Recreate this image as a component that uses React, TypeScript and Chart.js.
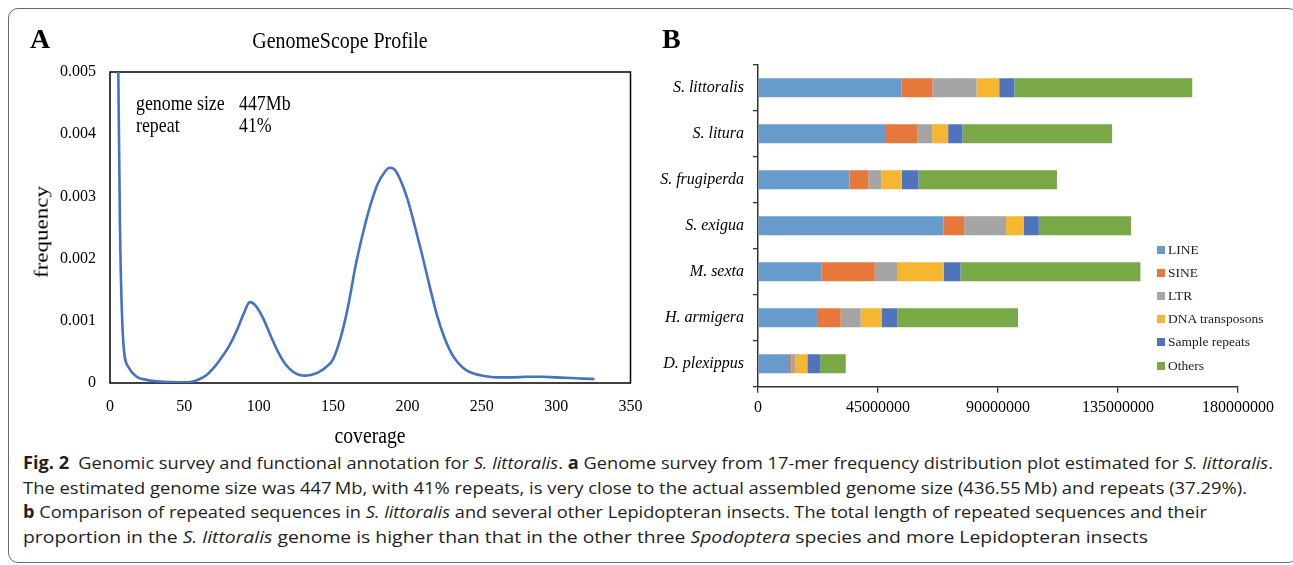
import React, { useEffect, useRef } from "react";
import { Chart, registerables } from "chart.js";
Chart.register(...registerables);

// ---------- Panel A: GenomeScope k-mer profile ----------
const coverage = [5, 5.6, 6.7, 9, 12.3, 18, 24.7, 30, 40, 50, 55, 60, 65, 70, 75, 80, 85, 90, 94, 98, 103, 108, 113, 118, 123, 128, 131, 135, 140, 145, 150, 155, 160, 165, 170, 175, 180, 185, 188, 191, 195, 200, 205, 210, 215, 220, 225, 230, 235, 240, 245, 250, 255, 260, 270, 280, 290, 300, 310, 318, 325.8];
const frequency = [0.0065, 0.005, 0.00252, 0.00064, 0.00026, 0.0001, 0.00005, 0.00003, 0.000015, 0.00001, 0.00002, 0.00006, 0.00013, 0.00025, 0.00041, 0.00059, 0.00083, 0.00112, 0.0013, 0.00124, 0.00104, 0.00076, 0.0005, 0.0003, 0.00018, 0.000125, 0.000118, 0.00013, 0.00017, 0.00025, 0.00038, 0.00072, 0.00122, 0.00187, 0.0024, 0.00285, 0.0032, 0.0034, 0.00346, 0.00344, 0.00328, 0.00296, 0.00252, 0.00205, 0.00155, 0.00108, 0.00072, 0.00046, 0.0003, 0.0002, 0.00015, 0.00012, 0.0001, 0.00009, 0.00009, 0.0001, 0.0001, 0.00009, 0.00008, 0.00007, 0.000065];
const coverageTicks = [0, 50, 100, 150, 200, 250, 300, 350];
const frequencyTicks = [0, 0.001, 0.002, 0.003, 0.004, 0.005];

// ---------- Panel B: repeat composition ----------
const species = ["S. littoralis", "S. litura", "S. frugiperda", "S. exigua", "M. sexta", "H. armigera", "D. plexippus"];
const lineRepeats = [53850000, 48000000, 34300000, 69600000, 23900000, 22100000, 12000000];
const sineRepeats = [11600000, 11700000, 7100000, 7700000, 19900000, 8900000, 600000];
const ltrRepeats = [16500000, 5600000, 4900000, 15700000, 8600000, 7500000, 1500000];
const dnaTransposons = [8500000, 6000000, 7600000, 6600000, 17300000, 8000000, 4400000];
const sampleRepeats = [5700000, 5400000, 6300000, 5700000, 6200000, 5700000, 4800000];
const otherRepeats = [66700000, 56100000, 51900000, 34600000, 67500000, 45300000, 9600000];
const seriesNames = ["LINE", "SINE", "LTR", "DNA transposons", "Sample repeats", "Others"];
const seriesColors = ["#669BCB", "#E6783B", "#A5A5A5", "#F6B631", "#5074BC", "#7AA847"];
const lengthTicks = [0, 45000000, 90000000, 135000000, 180000000];

// ---------- Caption ----------
type Seg = [string, "" | "b" | "i"];
const captionLines: Seg[][] = [
  [["Fig. 2", "b"], ["\u2002Genomic survey and functional annotation for ", ""], ["S. littoralis", "i"], [". ", ""], ["a", "b"], [" Genome survey from 17-mer frequency distribution plot estimated for ", ""], ["S. littoralis", "i"], [".", ""]],
  [["The estimated genome size was 447\u2009Mb, with 41% repeats, is very close to the actual assembled genome size (436.55\u2009Mb) and repeats (37.29%).", ""]],
  [["b", "b"], [" Comparison of repeated sequences in ", ""], ["S. littoralis", "i"], [" and several other Lepidopteran insects. The total length of repeated sequences and their", ""]],
  [["proportion in the ", ""], ["S. littoralis", "i"], [" genome is higher than that in the other three ", ""], ["Spodoptera", "i"], [" species and more Lepidopteran insects", ""]],
];
const captionWidths = [1250, 1224, 1184, 1125];

const SERIF = '"Liberation Serif", "Times New Roman", serif';

export default function App() {
  const aRef = useRef<HTMLCanvasElement | null>(null);
  const bRef = useRef<HTMLCanvasElement | null>(null);
  const capRefs = useRef<(HTMLSpanElement | null)[]>([]);

  useEffect(() => {
    const boxPlugin = {
      id: "box",
      beforeDatasetsDraw(chart: any) {
        const { ctx, chartArea } = chart;
        ctx.save();
        ctx.strokeStyle = "#000";
        ctx.lineWidth = 1.5;
        ctx.strokeRect(chartArea.left, chartArea.top, chartArea.right - chartArea.left, chartArea.bottom - chartArea.top);
        ctx.restore();
      },
    };
    const chartA = new Chart(aRef.current!, {
      type: "line",
      data: {
        datasets: [
          {
            data: coverage.map((c, i) => ({ x: c, y: frequency[i] })),
            borderColor: "#4472C4",
            borderWidth: 2.6,
            pointRadius: 0,
            cubicInterpolationMode: "monotone",
            fill: false,
          },
        ],
      },
      options: {
        animation: false,
        responsive: true,
        maintainAspectRatio: false,
        layout: { padding: { left: 10, right: 19.5, top: 72, bottom: 1 } },
        plugins: { legend: { display: false }, title: { display: false }, tooltip: { enabled: false } },
        scales: {
          x: {
            type: "linear",
            min: 0,
            max: 350,
            afterBuildTicks: (s: any) => { s.ticks = coverageTicks.map((v) => ({ value: v })); },
            ticks: { font: { family: SERIF, size: 16 }, color: "#000", padding: 2, maxRotation: 0 },
            grid: { display: false, drawTicks: true, tickLength: 12 },
            border: { display: false },
            afterFit: (s: any) => { s.height = 66; },
          },
          y: {
            min: 0,
            max: 0.005,
            afterBuildTicks: (s: any) => { s.ticks = frequencyTicks.map((v) => ({ value: v })); },
            ticks: {
              font: { family: SERIF, size: 16 },
              color: "#000",
              padding: 14,
              callback: (v: any) => (Number(v) === 0 ? "0" : Number(v).toFixed(3)),
            },
            grid: { display: false, drawTicks: false },
            border: { display: false },
            afterFit: (s: any) => { s.width = 100; },
          },
        },
      },
      plugins: [boxPlugin],
    } as any);

    const seriesData = [lineRepeats, sineRepeats, ltrRepeats, dnaTransposons, sampleRepeats, otherRepeats];
    const chartB = new Chart(bRef.current!, {
      type: "bar",
      data: {
        labels: species,
        datasets: seriesNames.map((name, i) => ({
          label: name,
          data: seriesData[i],
          backgroundColor: seriesColors[i],
          borderWidth: 0,
          barPercentage: 0.41,
          categoryPercentage: 1,
        })),
      },
      options: {
        indexAxis: "y",
        animation: false,
        responsive: true,
        maintainAspectRatio: false,
        layout: { padding: { left: 8, right: 55, top: 64.7, bottom: 23.3 } },
        plugins: { legend: { display: false }, title: { display: false }, tooltip: { enabled: false } },
        scales: {
          x: {
            type: "linear",
            stacked: true,
            min: 0,
            max: 180000000,
            afterBuildTicks: (s: any) => { s.ticks = lengthTicks.map((v) => ({ value: v })); },
            ticks: { font: { family: SERIF, size: 16 }, color: "#000", padding: 5, maxRotation: 0, callback: (v: any) => String(v) },
            grid: { display: true, drawOnChartArea: false, drawTicks: true, tickLength: 6, color: "#333", lineWidth: 1.3 },
            border: { display: true, color: "#333", width: 1.5 },
            afterFit: (s: any) => { s.height = 40; },
          },
          y: {
            stacked: true,
            ticks: { font: { family: SERIF, size: 16, style: "italic" }, color: "#000", padding: 9 },
            grid: { display: true, drawOnChartArea: false, drawTicks: true, tickLength: 5, color: "#333", lineWidth: 1.3 },
            border: { display: true, color: "#333", width: 1.5 },
            afterFit: (s: any) => { s.width = 100; },
          },
        },
      },
    } as any);

    capRefs.current.forEach((el, i) => {
      if (!el) return;
      el.style.transform = "none";
      const w = el.getBoundingClientRect().width;
      if (w > 0) el.style.transform = `scaleX(${captionWidths[i] / w})`;
    });

    return () => {
      chartA.destroy();
      chartB.destroy();
    };
  }, []);

  const abs = (o: React.CSSProperties): React.CSSProperties => ({ position: "absolute", whiteSpace: "nowrap", ...o });

  return (
    <div style={{ position: "absolute", left: 0, top: 0, width: 1293, height: 565, background: "#fff", overflow: "hidden", fontFamily: SERIF, color: "#000" }}>
      <div style={abs({ left: 8, top: 8, width: 1290, height: 555, border: "1.5px solid #6a6a6a", borderRadius: 10, boxSizing: "border-box" })} />

      <div style={abs({ left: 0, top: 0, width: 650, height: 450 })}>
        <canvas ref={aRef} />
      </div>
      <div style={abs({ left: 650, top: 0, width: 643, height: 450 })}>
        <canvas ref={bRef} />
      </div>

      {/* Panel A texts */}
      <div style={abs({ left: 30, top: 24.5, fontSize: 28, lineHeight: "28px", fontWeight: 700 })}>A</div>
      <div style={abs({ left: 340, top: 28, fontSize: 24, lineHeight: "24px", transform: "translateX(-50%) scaleX(0.83)" })}>GenomeScope Profile</div>
      <div style={abs({ left: 136, top: 92, fontSize: 21, lineHeight: "22px", transform: "scaleX(0.85)", transformOrigin: "left top" })}>genome size</div>
      <div style={abs({ left: 239, top: 92, fontSize: 21, lineHeight: "22px", transform: "scaleX(0.85)", transformOrigin: "left top" })}>447Mb</div>
      <div style={abs({ left: 136, top: 114, fontSize: 21, lineHeight: "22px", transform: "scaleX(0.85)", transformOrigin: "left top" })}>repeat</div>
      <div style={abs({ left: 239, top: 114, fontSize: 21, lineHeight: "22px", transform: "scaleX(0.85)", transformOrigin: "left top" })}>41%</div>
      <div style={abs({ left: 41, top: 232, fontSize: 23, lineHeight: "23px", transform: "translate(-50%,-50%) rotate(-90deg) scaleY(0.83)" })}>frequency</div>
      <div style={abs({ left: 370, top: 435, fontSize: 24, lineHeight: "24px", transform: "translate(-50%,-50%) scaleX(0.82)" })}>coverage</div>

      {/* Panel B texts */}
      <div style={abs({ left: 662, top: 24.5, fontSize: 28, lineHeight: "28px", fontWeight: 700 })}>B</div>
      {seriesNames.map((name, i) => (
        <div key={name} style={abs({ left: 1157, top: 250 + i * 23.1 - 8, height: 16, display: "flex", alignItems: "center", fontSize: 13.5, color: "#222" })}>
          <span style={{ display: "inline-block", width: 8, height: 8, background: seriesColors[i], marginRight: 3 }} />
          {name}
        </div>
      ))}

      {/* Caption */}
      {captionLines.map((line, li) => (
        <div key={li} style={abs({ left: 23, top: 451 + li * 24.5, fontFamily: '"Open Sans", "Noto Sans", sans-serif', fontSize: 17, lineHeight: "24.5px", color: "#231f20" })}>
          <span ref={(el) => { capRefs.current[li] = el; }} style={{ display: "inline-block", transformOrigin: "left top", whiteSpace: "nowrap" }}>
            {line.map(([t, s], si) =>
              s === "b" ? <b key={si}>{t}</b> : s === "i" ? <i key={si}>{t}</i> : <span key={si}>{t}</span>
            )}
          </span>
        </div>
      ))}
    </div>
  );
}
